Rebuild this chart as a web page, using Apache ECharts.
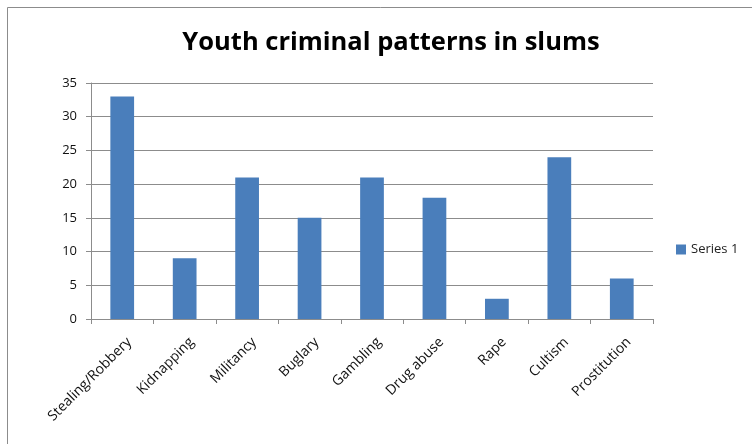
<!DOCTYPE html>
<html>
<head>
<meta charset="utf-8">
<script src="https://cdn.jsdelivr.net/npm/echarts@6/dist/echarts.min.js"></script>
<style>
  html, body { margin: 0; padding: 0; background: #fff; }
  #chart { width: 752px; height: 444px; }
</style>
</head>
<body>
<div id="chart"></div>
<script>
// Crime categories and counts
const categories = ['Stealing/Robbery', 'Kidnapping', 'Militancy', 'Buglary', 'Gambling', 'Drug abuse', 'Rape', 'Cultism', 'Prostitution'];
const series1 = [33, 9, 21, 15, 21, 18, 3, 24, 6];
const yTicks = [0, 5, 10, 15, 20, 25, 30, 35];

const chart = echarts.init(document.getElementById('chart'));
const font = '"Open Sans", "Liberation Sans", sans-serif';

chart.setOption({
  animation: false,
  backgroundColor: '#fff',
  graphic: [{
    type: 'rect',
    shape: { x: 7.5, y: 7.5, width: 800, height: 500 },
    style: { fill: 'none', stroke: '#8c8c8c', lineWidth: 1 },
    silent: true
  }],
  title: {
    text: 'Youth criminal patterns in slums',
    left: 386,
    textAlign: 'center',
    top: 25,
    textStyle: { fontFamily: font, fontSize: 25.5, fontWeight: 'bold', color: '#000' }
  },
  legend: {
    data: ['Series 1'],
    left: 671,
    top: 238,
    itemWidth: 10,
    itemHeight: 10,
    itemGap: 6,
    icon: 'rect',
    textStyle: { fontFamily: font, fontSize: 13, color: '#222' }
  },
  grid: { left: 91, right: 99, top: 83, bottom: 125, containLabel: false },
  xAxis: {
    type: 'category',
    data: categories,
    axisLine: { lineStyle: { color: '#8c8c8c' } },
    axisTick: { show: true, length: 5, alignWithLabel: false, lineStyle: { color: '#8c8c8c' } },
    axisLabel: { rotate: 45, fontFamily: font, fontSize: 14, color: '#111', margin: 28, interval: 0, padding: [0, -10, 0, 0] }
  },
  yAxis: {
    type: 'value',
    min: yTicks[0],
    max: yTicks[yTicks.length - 1],
    interval: 5,
    axisLine: { show: true, lineStyle: { color: '#8c8c8c' } },
    axisTick: { show: true, length: 5, lineStyle: { color: '#8c8c8c' } },
    axisLabel: { fontFamily: font, fontSize: 13, color: '#111', margin: 14 },
    splitLine: { lineStyle: { color: '#8c8c8c' } }
  },
  series: [{
    name: 'Series 1',
    type: 'bar',
    data: series1,
    barWidth: '38%',
    itemStyle: { color: '#4a7ebb' }
  }]
});
</script>
</body>
</html>
